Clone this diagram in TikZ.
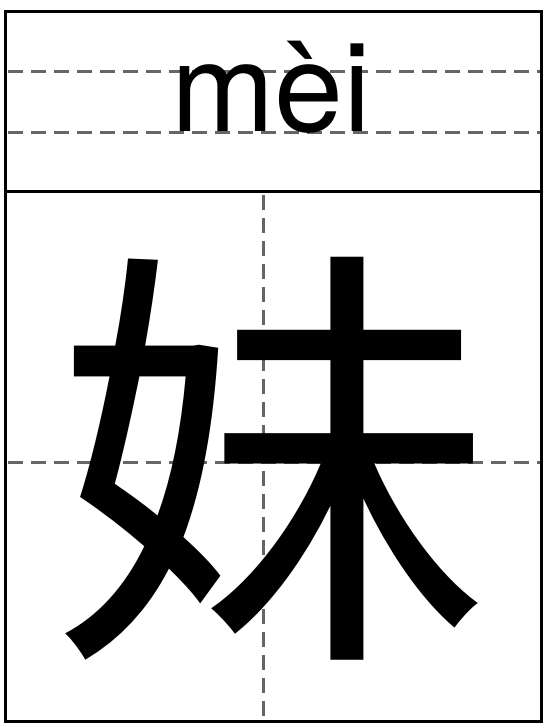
\documentclass[tikz,border=0pt]{standalone}
\usepackage{fontspec}
\newfontfamily\pyfont{TeX Gyre Heros}
\newfontfamily\cjk{Noto Sans CJK SC}
\begin{document}
\begin{tikzpicture}[x=1pt,y=-1pt,
  frame/.style={draw=black,line width=3pt},
  guide/.style={draw=black!60,line width=3pt,dash pattern=on 15pt off 8pt}]
\useasboundingbox (0,0) rectangle (546,727);
\coordinate (tl) at (5,12);
\coordinate (br) at (541,721);
% guide lines
\coordinate (h1a) at (8,72);  \coordinate (h1b) at (541,72);
\coordinate (h2a) at (8,133); \coordinate (h2b) at (541,133);
\coordinate (h3a) at (8,462); \coordinate (h3b) at (541,462);
\coordinate (va) at (263,195); \coordinate (vb) at (263,721);
\draw[guide] (h1a) -- (h1b);
\draw[guide] (h2a) -- (h2b);
\draw[guide] (h3a) -- (h3b);
\draw[guide] (va) -- (vb);
% frame
\draw[frame] (tl) rectangle (br);
\coordinate (sa) at (5,192); \coordinate (sb) at (541,192);
\draw[frame] (sa) -- (sb);
% texts
\node[anchor=base,inner sep=0pt,font=\pyfont\fontsize{124}{124}\selectfont] (py) at (271,132) {mèi};
\node[inner sep=0pt,font=\cjk\fontsize{440}{440}\selectfont] (hz) at (271,459) {妹};
\end{tikzpicture}
\end{document}
